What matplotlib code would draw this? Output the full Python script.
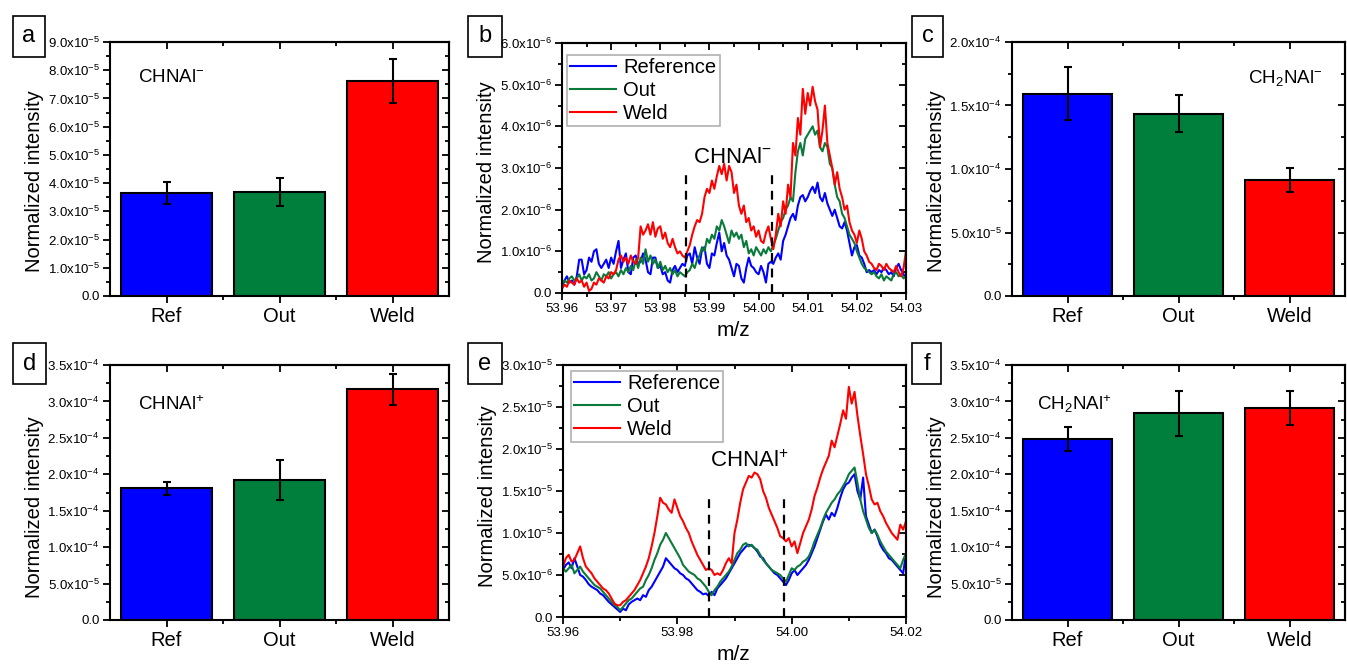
import numpy as np
import matplotlib
matplotlib.use("Agg")
import matplotlib.pyplot as plt
from matplotlib.ticker import MultipleLocator, FixedLocator, FuncFormatter, NullFormatter
from matplotlib.patches import Rectangle

plt.rcParams["font.family"] = ["Liberation Sans", "DejaVu Sans"]
plt.rcParams["mathtext.default"] = "regular"

W, H = 1347, 665

#%%
# bar data
groups = ["Ref", "Out", "Weld"]
bar_colors = ["#0000ff", "#007f3c", "#ff0000"]

a_vals = [3.66e-5, 3.68e-5, 7.62e-5]
a_errs = [0.39e-5, 0.49e-5, 0.79e-5]

c_vals = [1.593e-4, 1.436e-4, 0.916e-4]
c_errs = [0.21e-4, 0.148e-4, 0.095e-4]

d_vals = [1.807e-4, 1.921e-4, 3.166e-4]
d_errs = [0.085e-4, 0.28e-4, 0.21e-4]

f_vals = [2.486e-4, 2.835e-4, 2.908e-4]
f_errs = [0.167e-4, 0.31e-4, 0.23e-4]

#%%
# spectrum b (CHNAl-), m/z 53.960 .. 54.030, step 0.0005, units 1e-6
b_start, b_step = 53.96, 0.0005
b_ref = [0.15, 0.3, 0.4, 0.25, 0.3, 0.2, 0.4, 0.8, 0.8, 0.45,
         0.55, 0.85, 0.75, 1.0, 1.05, 0.7, 0.6, 0.7, 0.8, 0.6,
         0.85, 0.7, 1.0, 1.25, 0.6, 0.8, 0.95, 0.5, 0.45, 0.85,
         0.9, 0.7, 0.75, 0.95, 0.8, 0.5, 0.45, 0.85, 0.85, 0.6,
         0.65, 0.45, 0.5, 0.3, 0.25, 0.55, 0.65, 0.5, 0.6, 0.7,
         0.65, 0.9, 0.95, 0.7, 1.1, 0.85, 0.7, 1.05, 1.1, 0.7,
         0.6, 0.95, 0.9, 1.2, 1.45, 1.0, 1.2, 0.9, 0.8, 0.6,
         0.4, 0.7, 0.65, 0.35, 0.25, 0.6, 0.85, 0.65, 0.6, 0.5,
         0.45, 0.65, 0.5, 0.25, 0.7, 0.75, 0.7, 0.85, 0.95, 0.8,
         1.25, 1.4, 1.6, 1.8, 1.9, 1.75, 2.1, 2.3, 2.35, 2.2,
         2.3, 2.45, 2.55, 2.4, 2.65, 2.3, 2.2, 2.4, 2.15, 2.0,
         1.85, 2.0, 1.8, 1.6, 1.55, 1.7, 1.5, 1.2, 0.9, 1.1,
         1.15, 0.9, 0.85, 0.7, 0.5, 0.55, 0.5, 0.55, 0.45, 0.55,
         0.5, 0.6, 0.55, 0.45, 0.5, 0.4, 0.6, 0.7, 0.55, 0.45, 0.35]
b_out = [0.2, 0.3, 0.25, 0.35, 0.4, 0.3, 0.35, 0.45, 0.3, 0.4,
         0.35, 0.45, 0.3, 0.35, 0.5, 0.4, 0.3, 0.45, 0.4, 0.5,
         0.35, 0.45, 0.5, 0.4, 0.55, 0.45, 0.6, 0.5, 0.65, 0.55,
         0.8, 0.6, 0.85, 0.7, 1.05, 0.75, 0.9, 0.7, 0.8, 0.6,
         0.75, 0.55, 0.65, 0.5, 0.6, 0.45, 0.55, 0.4, 0.5, 0.45,
         0.4, 0.5, 0.55, 0.7, 0.6, 0.8, 0.9, 1.1, 1.0, 1.3,
         1.2, 1.4, 1.3, 1.6, 1.5, 1.75, 1.6, 1.4, 1.2, 1.5,
         1.35, 1.45, 1.3, 1.4, 1.1, 1.25, 0.95, 1.05, 0.9, 1.1,
         1.0, 0.9, 1.05, 0.95, 1.1, 1.0, 1.15, 1.3, 1.5, 1.7,
         1.8, 2.0, 2.1, 2.3, 2.2, 2.9, 3.4, 3.6, 3.3, 3.7,
         3.8, 3.9, 4.0, 3.8, 3.9, 3.5, 3.4, 3.6, 3.5, 3.1,
         3.0, 2.6, 2.3, 2.2, 1.9, 1.8, 1.6, 1.4, 1.3, 1.2,
         1.0, 0.85, 0.7, 0.6, 0.55, 0.5, 0.45, 0.5, 0.4, 0.35,
         0.45, 0.3, 0.4, 0.35, 0.3, 0.45, 0.5, 0.4, 0.45, 0.35, 0.4]
b_weld = [0.1, 0.2, 0.15, 0.3, 0.25, 0.2, 0.35, 0.25, 0.3, 0.15,
          0.25, 0.05, 0.1, 0.25, 0.2, 0.35, 0.3, 0.25, 0.4, 0.35,
          0.5, 0.45, 0.55, 0.8, 0.9, 0.75, 0.85, 0.7, 0.9, 0.75,
          0.7, 0.85, 1.6, 1.4, 1.5, 1.65, 1.4, 1.7, 1.35, 1.55,
          1.6, 1.3, 1.45, 1.2, 1.1, 1.3, 1.1, 0.95, 1.0, 0.9,
          0.85, 1.0, 1.15, 1.4, 1.6, 1.75, 1.7, 1.9, 2.3, 2.5,
          2.4, 2.7, 2.5, 2.8, 3.05, 2.85, 3.1, 2.7, 3.05, 2.9,
          2.4, 2.6, 2.1, 1.9, 2.1, 1.7, 1.8, 1.5, 1.6, 1.35,
          1.5, 1.25, 1.2, 1.45, 1.6, 1.3, 1.05, 1.4, 1.9, 1.6,
          2.2, 1.9, 2.6, 2.3, 3.6, 3.3, 4.2, 3.8, 4.9, 4.3,
          4.8, 4.5, 4.95, 4.6, 4.4, 3.5, 3.9, 4.5, 3.6, 3.3,
          3.0, 2.6, 2.9, 2.5, 2.3, 2.0, 2.1, 1.7, 1.5, 1.4,
          1.2, 1.5, 1.3, 1.0, 0.9, 0.75, 0.7, 0.6, 0.55, 0.7,
          0.65, 0.55, 0.7, 0.6, 0.55, 0.5, 0.65, 0.5, 0.4, 0.6, 1.0]
b_lines = [53.9853, 54.0027]

#%%
# spectrum e (CHNAl+), m/z 53.960 .. 54.020, step 0.0005, units 1e-6
e_start, e_step = 53.96, 0.0005
e_ref = [5.6, 6.2, 6.5, 5.8, 7.0, 6.0, 5.0, 4.8, 4.4, 3.9,
         3.6, 3.4, 3.2, 2.8, 2.6, 2.2, 1.8, 1.5, 1.2, 0.9,
         0.6, 1.0, 0.8, 1.5, 1.8, 2.0, 2.2, 2.0, 2.6, 2.4,
         3.2, 3.6, 4.2, 4.8, 5.4, 6.0, 7.0, 6.6, 6.2, 5.8,
         5.6, 5.2, 5.0, 4.6, 4.4, 4.0, 3.6, 3.2, 3.0, 2.7,
         2.8, 2.5, 3.0, 2.6, 3.4, 3.8, 4.2, 4.6, 5.2, 5.8,
         6.4, 7.0, 7.6, 8.0, 8.4, 8.6, 8.5, 8.2, 7.8, 7.2,
         7.0, 6.4, 6.0, 5.6, 5.2, 5.0, 4.6, 4.2, 3.8, 4.4,
         5.2, 5.6, 5.0, 5.4, 5.8, 6.2, 6.8, 7.6, 8.4, 9.4,
         10.4, 11.4, 12.2, 11.6, 12.4, 12.0, 13.0, 14.2, 15.2, 15.8,
         16.0, 16.6, 17.0, 15.0, 14.0, 16.6, 12.0, 11.0, 10.0, 10.4,
         9.6, 8.6, 8.0, 7.6, 7.0, 6.8, 6.4, 6.0, 5.6, 5.2, 7.6]
e_out = [5.8, 5.4, 5.8, 6.2, 5.2, 5.6, 6.0, 5.4, 5.0, 4.6,
         4.2, 3.8, 3.6, 3.4, 3.0, 2.6, 2.2, 1.8, 1.4, 1.2,
         0.8, 1.2, 1.6, 2.0, 2.2, 2.6, 3.0, 3.4, 3.6, 4.4,
         5.0, 5.8, 6.8, 7.6, 8.6, 9.2, 10.0, 9.4, 8.8, 8.2,
         7.6, 7.0, 6.2, 5.8, 5.4, 5.2, 5.0, 4.6, 4.4, 4.0,
         3.6, 3.0, 2.6, 3.2, 3.6, 4.2, 4.6, 5.0, 5.4, 6.0,
         6.8, 7.6, 8.0, 8.6, 8.8, 8.4, 8.6, 8.2, 8.0, 7.4,
         6.8, 6.4, 6.0, 5.6, 5.4, 5.2, 5.0, 4.6, 4.2, 5.0,
         5.8, 5.6, 6.0, 6.2, 6.6, 6.8, 7.2, 8.0, 9.0, 9.8,
         10.6, 11.6, 12.4, 13.0, 13.6, 14.0, 14.6, 15.0, 15.6, 16.2,
         17.0, 17.4, 17.8, 16.0, 14.0, 12.6, 11.6, 10.6, 10.0, 10.4,
         9.8, 9.0, 8.4, 7.8, 7.4, 7.0, 6.6, 6.2, 5.8, 6.8, 7.6]
e_weld = [6.0, 7.0, 7.4, 6.6, 6.8, 7.6, 8.4, 7.0, 6.0, 5.6,
          5.2, 4.6, 4.2, 3.8, 3.4, 3.2, 2.8, 2.2, 1.6, 1.4,
          1.4, 1.8, 2.0, 2.4, 2.8, 3.2, 3.8, 4.4, 5.2, 6.0,
          7.0, 8.4, 10.0, 12.0, 14.2, 13.6, 13.4, 12.8, 12.4, 14.0,
          13.0, 12.0, 11.4, 10.6, 10.0, 9.0, 8.2, 7.4, 6.8, 6.2,
          5.6, 5.8, 5.6, 5.0, 5.2, 5.0, 5.6, 6.4, 7.0, 6.4,
          10.0, 11.6, 13.6, 15.2, 16.0, 16.8, 16.6, 17.2, 17.0, 16.4,
          15.0, 14.2, 13.0, 12.2, 11.4, 10.6, 9.6, 9.4, 9.0, 9.4,
          8.4, 9.0, 7.6, 8.8, 10.0, 10.8, 11.6, 12.8, 14.4, 15.4,
          16.6, 17.6, 18.4, 19.2, 21.0, 20.2, 21.6, 23.0, 24.6, 23.6,
          27.4, 25.4, 26.8, 24.0, 21.6, 19.4, 17.0, 15.6, 14.0, 13.4,
          13.6, 12.6, 12.0, 11.2, 10.6, 10.0, 9.6, 9.2, 11.0, 10.4, 11.4]
e_lines = [53.9855, 53.9987]

line_colors = ["#0000ff", "#0a7a3a", "#ff0000"]
line_names = ["Reference", "Out", "Weld"]


#%%
def sci_label(v, pos):
    if abs(v) < 1e-15:
        return "0.0"
    e = int(np.floor(np.log10(abs(v)) + 1e-9))
    m = v/10**e
    return f"{m:.1f}x10$^{{{e}}}$"


def new_axes(l, t, r, b):
    return fig.add_axes([l/W, 1-b/H, (r-l)/W, (b-t)/H])


def style(ax, xmaj, xmin, ymaj, ymin, fixed_x=False):
    for sp in ax.spines.values():
        sp.set_linewidth(1.5)
    ax.tick_params(which="both", direction="out", width=1.3, labelsize=9.5, pad=2.5)
    ax.tick_params(which="major", length=5)
    ax.tick_params(which="minor", length=3)
    ax.yaxis.set_major_locator(MultipleLocator(ymaj))
    ax.yaxis.set_minor_locator(MultipleLocator(ymin))
    ax.yaxis.set_major_formatter(FuncFormatter(sci_label))

    sx = ax.secondary_xaxis("top")
    sy = ax.secondary_yaxis("right")
    if fixed_x:
        sx.xaxis.set_major_locator(FixedLocator(xmaj))
        sx.xaxis.set_minor_locator(FixedLocator(xmin))
    else:
        sx.xaxis.set_major_locator(MultipleLocator(xmaj))
        sx.xaxis.set_minor_locator(MultipleLocator(xmin))
    sy.yaxis.set_major_locator(MultipleLocator(ymaj))
    sy.yaxis.set_minor_locator(MultipleLocator(ymin))
    for s in (sx, sy):
        for sp in s.spines.values():
            sp.set_linewidth(1.5)
        s.tick_params(which="both", direction="in", width=1.3)
        s.tick_params(which="major", length=5)
        s.tick_params(which="minor", length=3)
    sx.xaxis.set_major_formatter(NullFormatter())
    sy.yaxis.set_major_formatter(NullFormatter())


def bar_panel(ax, vals, errs, ymax, ymaj, ymin):
    x = np.arange(1, len(groups)+1)
    ax.bar(x, vals, width=0.8, color=bar_colors, edgecolor="black", linewidth=1.5,
           yerr=errs, capsize=3,
           error_kw=dict(elinewidth=1.5, capthick=1.5, ecolor="black"))
    ax.set_xlim(0.5, 3.5)
    ax.set_ylim(0, ymax)
    ax.xaxis.set_major_locator(FixedLocator(x))
    ax.xaxis.set_minor_locator(FixedLocator([1.5, 2.5]))
    ax.set_xticklabels(groups)
    style(ax, list(x), [1.5, 2.5], ymaj, ymin, fixed_x=True)
    ax.tick_params(axis="x", which="major", labelsize=14.5, pad=3)


def spec_panel(ax, start, step, series, scale, xmax, ymax, xmaj, xmin, ymaj, ymin, lines, ltop):
    for vals, col, name in zip(series, line_colors, line_names):
        mz = start + step*np.arange(len(vals))
        ax.plot(mz, np.array(vals)*scale, color=col, linewidth=1.5, label=name)
    for xv, yt in zip(lines, ltop):
        ax.plot([xv, xv], [0, yt], color="black", linewidth=1.6, linestyle=(0, (4, 3)))
    ax.set_xlim(start, xmax)
    ax.set_ylim(0, ymax)
    ax.xaxis.set_major_locator(MultipleLocator(xmaj))
    ax.xaxis.set_minor_locator(MultipleLocator(xmin))
    ax.xaxis.set_major_formatter(FuncFormatter(lambda v, p: f"{v:.2f}"))
    style(ax, xmaj, xmin, ymaj, ymin)


def panel_tag(letter, l, t, r, b):
    fig.patches.append(Rectangle((l/W, 1-b/H), (r-l)/W, (b-t)/H, transform=fig.transFigure,
                                 fill=False, edgecolor="black", linewidth=1.2))
    fig.text((l+r)/2/W, 1-(t+b)/2/H, letter, fontsize=17, ha="center", va="center")


def ftext(px, py, s, fs):
    fig.text(px/W, 1-py/H, s, fontsize=fs, ha="left", va="baseline")


#%%
fig = plt.figure(figsize=(W/100, H/100), dpi=100)

ax_a = new_axes(110, 42, 449, 296)
bar_panel(ax_a, a_vals, a_errs, 9e-5, 1e-5, 0.5e-5)

ax_b = new_axes(562, 43, 906, 293)
spec_panel(ax_b, b_start, b_step, [b_ref, b_out, b_weld], 1e-6, 54.03, 6e-6,
           0.01, 0.005, 1e-6, 0.5e-6, b_lines, [2.95e-6, 2.95e-6])

ax_c = new_axes(1012, 42, 1345, 296)
bar_panel(ax_c, c_vals, c_errs, 2e-4, 5e-5, 2.5e-5)

ax_d = new_axes(110, 365, 449, 620)
bar_panel(ax_d, d_vals, d_errs, 3.5e-4, 5e-5, 2.5e-5)

ax_e = new_axes(563, 365, 906, 617)
spec_panel(ax_e, e_start, e_step, [e_ref, e_out, e_weld], 1e-6, 54.02, 3e-5,
           0.02, 0.01, 5e-6, 2.5e-6, e_lines, [1.43e-5, 1.46e-5])

ax_f = new_axes(1012, 365, 1345, 620)
bar_panel(ax_f, f_vals, f_errs, 3.5e-4, 5e-5, 2.5e-5)

# y labels
for ax, l, r, t, b, yc in [(ax_a, 110, 449, 42, 296, 181), (ax_b, 562, 906, 43, 293, 172),
                           (ax_c, 1012, 1345, 42, 296, 181), (ax_d, 110, 449, 365, 620, 507),
                           (ax_e, 563, 906, 365, 617, 496), (ax_f, 1012, 1345, 365, 620, 507)]:
    ax.set_ylabel("Normalized intensity", fontsize=14.5)
    ax.yaxis.set_label_coords(-66/(r-l), (b-yc)/(b-t))

fig.text(733/W, 1-331/H, "m/z", fontsize=15, ha="center", va="center")
fig.text(733/W, 1-655/H, "m/z", fontsize=15, ha="center", va="center")

# legends
for ax, anchor in [(ax_b, (0.0145, 0.952)), (ax_e, (0.023, 0.976))]:
    leg = ax.legend(loc="upper left", bbox_to_anchor=anchor, borderaxespad=0,
                    fontsize=14.5, handlelength=2.3, handletextpad=0.35,
                    labelspacing=0.2, borderpad=0.15, fancybox=False, framealpha=1)
    leg.get_frame().set_edgecolor("#b0b0b0")
    leg.get_frame().set_linewidth(1.2)

# species labels
ftext(138, 82, r"CHNAl$^{-}$", 13.5)
ftext(693, 163, r"CHNAl$^{-}$", 16)
ftext(1248, 83, r"CH$_{2}$NAl$^{-}$", 13.5)
ftext(138, 410, r"CHNAl$^{+}$", 13.5)
ftext(710, 467, r"CHNAl$^{+}$", 16)
ftext(1037, 410, r"CH$_{2}$NAl$^{+}$", 13.5)

# panel tags
panel_tag("a", 13, 16, 45, 57)
panel_tag("b", 468, 16, 502, 57)
panel_tag("c", 912, 16, 943, 57)
panel_tag("d", 13, 343, 46, 384)
panel_tag("e", 468, 343, 502, 384)
panel_tag("f", 912, 343, 941, 384)

fig.savefig("out.png", dpi=100)
